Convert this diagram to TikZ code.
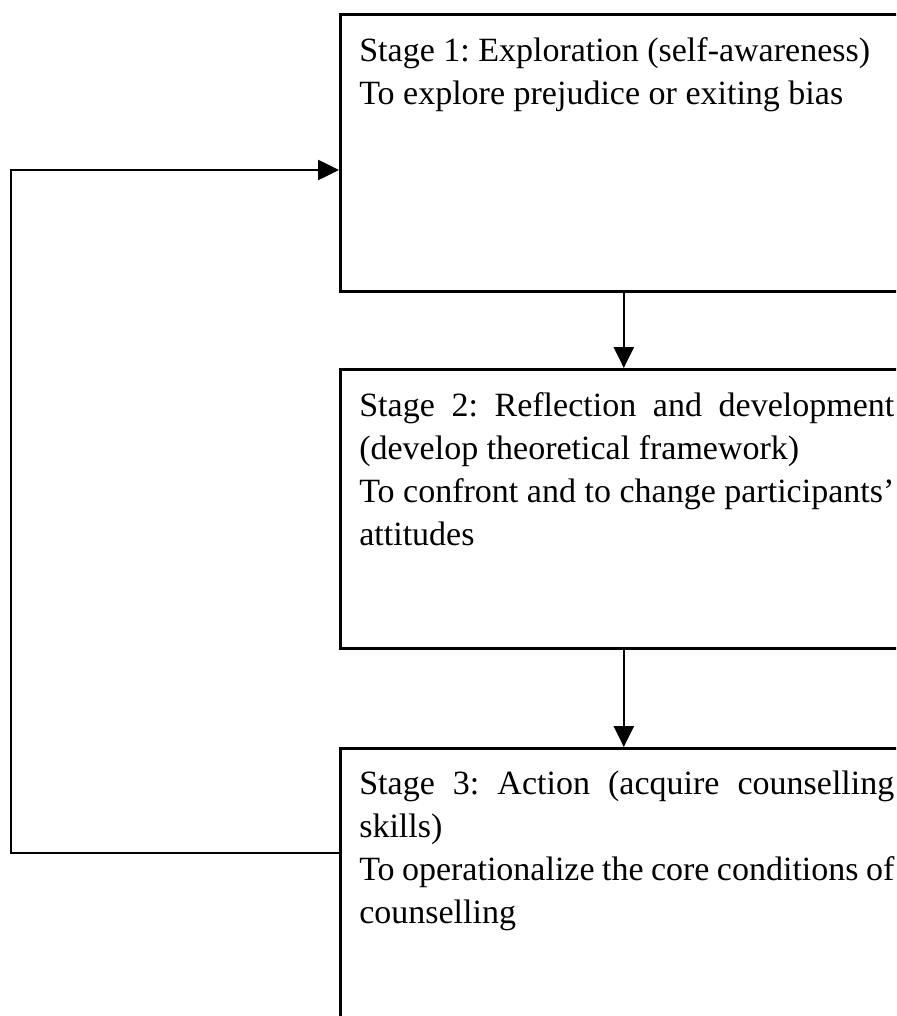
\documentclass[tikz,border=0pt]{standalone}
\usepackage{fontspec}
\setmainfont{Liberation Serif}
\usetikzlibrary{arrows.meta}

\tikzset{
  stagebox/.style={draw, line width=2.6pt, anchor=north west, inner xsep=19pt, inner ysep=23pt},
  flow/.style={-{Triangle[length=21pt, width=20pt]}, line width=2.6pt},
}
% text block, top aligned, fixed height
\newcommand{\stagetext}[2]{\parbox[t][#1][t]{535pt}{\fontsize{34}{43}\selectfont\frenchspacing #2}}

\begin{document}
\begin{tikzpicture}[x=1pt, y=-1pt]
  \clip (0,0) rectangle (896,1016);

  \node[stagebox] (stage1) at (339,13)
    {\stagetext{231pt}{Stage 1: Exploration (self-awareness)\par
     To explore prejudice or exiting bias}};
  \node[stagebox] (stage2) at (339,368)
    {\stagetext{233pt}{Stage 2: Reflection and development\linebreak
     (develop theoretical framework)\par
     To confront and to change participants'\linebreak attitudes}};
  \node[stagebox] (stage3) at (339,747)
    {\stagetext{300pt}{Stage 3: Action (acquire counselling\linebreak
     skills)\par
     To operationalize the core conditions of\linebreak counselling}};

  \coordinate (loopbottom) at (11,853);
  \coordinate (looptop) at (11,170);

  \draw[flow] ([xshift=-3pt]stage1.south) -- ([xshift=-3pt]stage2.north);
  \draw[flow] ([xshift=-3pt]stage2.south) -- ([xshift=-3pt]stage3.north);
  \draw[flow] (stage3.west |- loopbottom) -- (loopbottom) -- (looptop) -- (looptop -| stage1.west);
\end{tikzpicture}
\end{document}
